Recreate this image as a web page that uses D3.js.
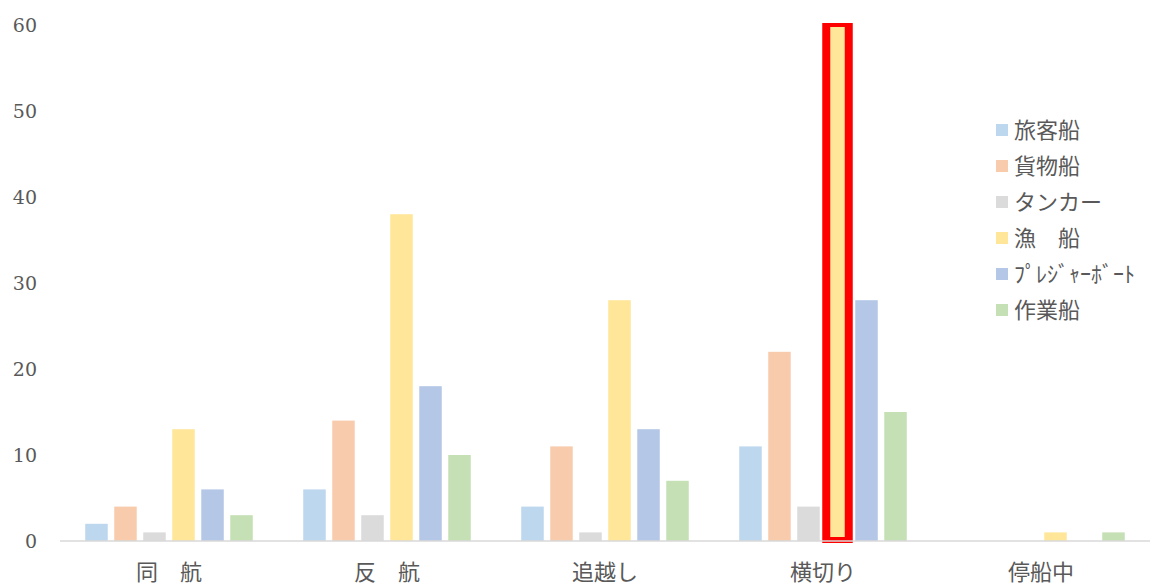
<!DOCTYPE html>
<html><head><meta charset="utf-8">
<script src="https://cdn.jsdelivr.net/npm/d3@7"></script>
<style>
html,body{margin:0;padding:0;background:#fff;}
svg{display:block;}
</style></head>
<body>
<svg id="chart" width="1152" height="585"></svg>
<script>
const categories = ["同　航", "反　航", "追越し", "横切り", "停船中"];
const seriesNames = ["旅客船", "貨物船", "タンカー", "漁　船", "ﾌﾟﾚｼﾞｬｰﾎﾞｰﾄ", "作業船"];
const seriesColors = ["#BDD7EE", "#F8CBAD", "#DBDBDB", "#FFE699", "#B4C7E7", "#C5E0B4"];
const passenger = [2, 6, 4, 11, 0];
const cargo = [4, 14, 11, 22, 0];
const tanker = [1, 3, 1, 4, 0];
const fishing = [13, 38, 28, 60, 1];
const pleasure = [6, 18, 13, 28, 0];
const work = [3, 10, 7, 15, 1];
const yTicks = [0, 10, 20, 30, 40, 50, 60];
const highlight = {category: "横切り", series: "漁　船"};

const seriesValues = [passenger, cargo, tanker, fishing, pleasure, work];

const svg = d3.select("#chart");
const mLeft = 60, mRight = 1150, mTop = 25, mBottom = 541;

const x0 = d3.scaleBand().domain(categories).range([mLeft, mRight]).padding(0);
const x1 = d3.scaleBand().domain(seriesNames).range([0, x0.bandwidth()])
  .paddingInner(0.224).paddingOuter(0.87);
const y = d3.scaleLinear().domain([0, 60]).range([mBottom, mTop]);

// y axis labels
const yAxis = d3.axisLeft(y).tickValues(yTicks).tickSize(0).tickPadding(0);
const ya = svg.append("g").attr("transform", "translate(37,0)").call(yAxis);
ya.select(".domain").remove();
ya.selectAll("text").attr("font-family", "'DejaVu Serif', serif").attr("font-size", 19)
  .attr("fill", "#595959").attr("dy", "0.35em");

// bars
const groups = svg.append("g").selectAll("g").data(categories).join("g")
  .attr("transform", d => `translate(${x0(d)},0)`);
groups.selectAll("rect").data((c, ci) => seriesNames.map((s, si) => ({c, s, si, v: seriesValues[si][ci]})))
  .join("rect")
  .attr("x", d => x1(d.s))
  .attr("width", x1.bandwidth())
  .attr("y", d => y(d.v))
  .attr("height", d => y(0) - y(d.v))
  .attr("fill", d => seriesColors[d.si]);

// highlight frame (red)
const hci = categories.indexOf(highlight.category);
const hsi = seriesNames.indexOf(highlight.series);
const hv = seriesValues[hsi][hci];
const hx = x0(highlight.category) + x1(highlight.series);
const hw = x1.bandwidth();
const ox0 = hx - 4, ox1 = hx + hw + 4, oy0 = y(hv) - 2, oy1 = y(0) + 2;
const ix0 = hx + 4, ix1 = hx + hw - 4, iy0 = y(hv) + 2, iy1 = y(0) - 4;
svg.append("path")
  .attr("d", `M${ox0},${oy0}H${ox1}V${oy1}H${ox0}Z M${ix0},${iy0}V${iy1}H${ix1}V${iy0}Z`)
  .attr("fill", "#FF0000").attr("fill-rule", "evenodd");

// baseline
svg.append("line").attr("x1", mLeft).attr("x2", mRight).attr("y1", y(0)).attr("y2", y(0))
  .attr("stroke", "#D9D9D9").attr("stroke-width", 1.5);

// x axis labels
const xAxis = d3.axisBottom(x0).tickSize(0).tickPadding(0);
const xa = svg.append("g").attr("transform", `translate(0,${y(0)})`).call(xAxis);
xa.select(".domain").remove();
xa.selectAll("text").attr("font-family", "'Noto Sans CJK JP', sans-serif").attr("font-size", 22)
  .attr("fill", "#595959").attr("dy", null).attr("y", 39);

// legend
const legend = svg.append("g").selectAll("g").data(seriesNames).join("g")
  .attr("transform", (d, i) => `translate(996,${130 + i * 36})`);
legend.append("rect").attr("x", 0).attr("y", -6).attr("width", 12).attr("height", 12)
  .attr("fill", (d, i) => seriesColors[i]);
legend.append("text").attr("x", 18).attr("y", 0).attr("dy", "0.35em")
  .attr("font-family", "'Noto Sans CJK JP', sans-serif").attr("font-size", 22)
  .attr("fill", "#595959").text(d => d);
</script>
</body></html>
